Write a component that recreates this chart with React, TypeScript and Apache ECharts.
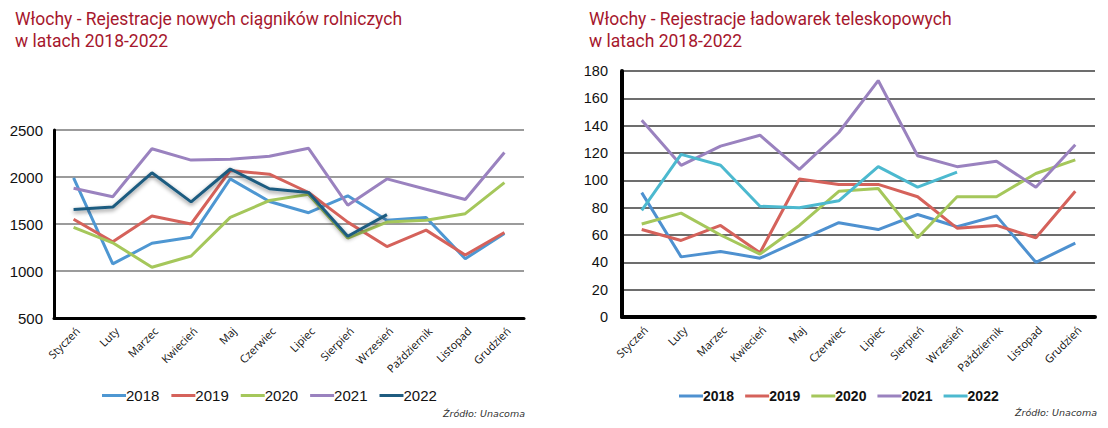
import React, { useEffect, useRef } from "react";
import * as echarts from "echarts";

const months = ["Styczeń", "Luty", "Marzec", "Kwiecień", "Maj", "Czerwiec", "Lipiec", "Sierpień", "Wrzesień", "Październik", "Listopad", "Grudzień"];
const years = ["2018", "2019", "2020", "2021", "2022"];

// Left chart: tractors
const tractors2018 = [1990, 1075, 1295, 1360, 1980, 1740, 1620, 1800, 1540, 1570, 1130, 1400];
const tractors2019 = [1550, 1310, 1585, 1500, 2070, 2030, 1835, 1520, 1260, 1435, 1170, 1410];
const tractors2020 = [1465, 1300, 1040, 1160, 1570, 1750, 1815, 1350, 1520, 1540, 1610, 1940];
const tractors2021 = [1880, 1790, 2300, 2180, 2190, 2220, 2305, 1700, 1980, 1870, 1760, 2260];
const tractors2022 = [1655, 1680, 2045, 1735, 2085, 1875, 1835, 1370, 1600];
const tractorTicks = { min: 500, max: 2500, interval: 500 };

// Right chart: telehandlers
const tele2018 = [91, 44, 48, 43, 56, 69, 64, 75, 66, 74, 40, 54];
const tele2019 = [64, 56, 67, 47, 101, 97, 97, 88, 65, 67, 58, 92];
const tele2020 = [68, 76, 60, 46, 67, 92, 94, 58, 88, 88, 105, 115];
const tele2021 = [144, 111, 125, 133, 108, 135, 173, 118, 110, 114, 95, 126];
const tele2022 = [78, 119, 111, 81, 80, 85, 110, 95, 106];
const teleTicks = { min: 0, max: 180, interval: 20 };

const leftColors = ["#4e97d2", "#d5625b", "#a5c75b", "#9a82bf", "#1f5c80"];
const rightColors = ["#4e91d0", "#d5625b", "#a5c75b", "#9a82bf", "#4cb9cf"];
const titleColor = "#a6172d";

function buildOption(cfg: any) {
  return {
    animation: false,
    graphic: [
      {
        type: "text",
        left: cfg.titleX,
        top: 8,
        style: {
          text: cfg.title,
          fill: titleColor,
          font: "17.5px Roboto",
          lineHeight: 22,
        },
      },
      {
        type: "text",
        right: cfg.srcRight,
        top: cfg.srcTop,
        style: {
          text: "Źródło: Unacoma",
          fill: "#333",
          font: "italic 9.5px 'DejaVu Sans'",
        },
      },
    ],
    legend: {
      left: cfg.legendLeft,
      top: cfg.legendTop,
      icon: "rect",
      itemWidth: 24,
      itemHeight: 3,
      itemGap: cfg.legendGap,
      textStyle: {
        fontFamily: "Liberation Sans",
        fontSize: cfg.legendFont,
        fontWeight: cfg.legendWeight,
        color: "#111",
        padding: [0, 0, 0, -5],
      },
      data: years,
    },
    grid: cfg.grid,
    xAxis: {
      type: "category",
      data: months,
      boundaryGap: true,
      axisLine: { lineStyle: { color: "#000", width: cfg.axisWidth } },
      axisTick: { show: false },
      axisLabel: {
        rotate: 45,
        interval: 0,
        margin: 7,
        verticalAlign: "top",
        fontFamily: "Open Sans",
        fontSize: 11,
        color: "#111",
      },
    },
    yAxis: {
      type: "value",
      min: cfg.ticks.min,
      max: cfg.ticks.max,
      interval: cfg.ticks.interval,
      axisLine: { show: true, lineStyle: { color: "#000", width: cfg.axisWidth } },
      axisTick: { show: false },
      axisLabel: {
        margin: cfg.yMargin,
        fontFamily: "Liberation Sans",
        fontSize: cfg.yFont,
        color: "#111",
        formatter: (v: number) => String(v),
      },
      splitLine: { lineStyle: { color: cfg.gridColor, width: 1.5 } },
    },
    series: cfg.data.map((d: number[], i: number) => ({
      name: years[i],
      type: "line",
      data: d,
      symbol: "none",
      z: i === 4 ? 5 : 2,
      lineStyle: Object.assign(
        { width: 3, color: cfg.colors[i] },
        cfg.shadow && i === 4
          ? { shadowColor: "rgba(0,0,0,0.45)", shadowBlur: 4, shadowOffsetY: 2 }
          : {}
      ),
      itemStyle: { color: cfg.colors[i] },
    })),
  };
}

export default function App() {
  const leftRef = useRef<HTMLDivElement>(null);
  const rightRef = useRef<HTMLDivElement>(null);

  useEffect(() => {
    document.body.style.margin = "0";
    const left = echarts.init(leftRef.current!, null, { renderer: "svg" });
    const right = echarts.init(rightRef.current!, null, { renderer: "svg" });
    left.setOption(
      buildOption({
        title: "Włochy - Rejestracje nowych ciągników rolniczych\nw latach 2018-2022",
        titleX: 15,
        srcRight: 29,
        srcTop: 408,
        legendLeft: 97,
        legendTop: 383,
        legendGap: 12,
        legendFont: 15,
        legendWeight: "normal",
        grid: { left: 54, right: 30, top: 130, bottom: 110 },
        axisWidth: 3,
        ticks: tractorTicks,
        yMargin: 11,
        yFont: 15,
        gridColor: "#7a7a7a",
        colors: leftColors,
        shadow: true,
        data: [tractors2018, tractors2019, tractors2020, tractors2021, tractors2022],
      })
    );
    right.setOption(
      buildOption({
        title: "Włochy - Rejestracje ładowarek teleskopowych\nw latach 2018-2022",
        titleX: 35,
        srcRight: 11,
        srcTop: 407,
        legendLeft: 120,
        legendTop: 384,
        legendGap: 11,
        legendFont: 14,
        legendWeight: "bold",
        grid: { left: 68, right: 13, top: 71, bottom: 111 },
        axisWidth: 4,
        ticks: teleTicks,
        yMargin: 14,
        yFont: 14.5,
        gridColor: "#3c3c3c",
        colors: rightColors,
        shadow: false,
        data: [tele2018, tele2019, tele2020, tele2021, tele2022],
      })
    );
    return () => {
      left.dispose();
      right.dispose();
    };
  }, []);

  return (
    <div style={{ position: "absolute", left: 0, top: 0, width: 1108, height: 428, background: "#fff" }}>
      <div ref={leftRef} style={{ position: "absolute", left: 0, top: 0, width: 554, height: 428 }} />
      <div ref={rightRef} style={{ position: "absolute", left: 554, top: 0, width: 554, height: 428 }} />
    </div>
  );
}
